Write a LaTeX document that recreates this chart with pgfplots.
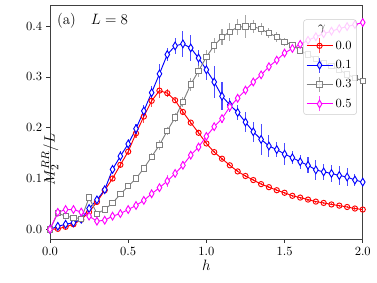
\documentclass[border=0pt]{standalone}
\usepackage{pgfplots}
\usepackage{pgfplotstable}
\pgfplotsset{compat=1.18}
\definecolor{mred}{rgb}{1,0,0}
\definecolor{mblue}{rgb}{0,0,1}
\definecolor{mgray}{rgb}{0.5,0.5,0.5}
\definecolor{mmag}{rgb}{1,0,1}
\definecolor{legframe}{rgb}{0.8,0.8,0.8}

\pgfplotstableread{
h y e
0.00 0.000 0.001
0.05 0.001 0.002
0.10 0.005 0.002
0.15 0.010 0.002
0.20 0.019 0.003
0.25 0.034 0.003
0.30 0.054 0.004
0.35 0.077 0.004
0.40 0.100 0.005
0.45 0.127 0.006
0.50 0.153 0.007
0.55 0.189 0.010
0.60 0.222 0.012
0.65 0.253 0.012
0.70 0.273 0.014
0.75 0.268 0.008
0.80 0.254 0.005
0.85 0.231 0.004
0.90 0.210 0.003
0.95 0.190 0.003
1.00 0.169 0.002
1.05 0.152 0.002
1.10 0.139 0.002
1.15 0.126 0.002
1.20 0.114 0.002
1.25 0.105 0.002
1.30 0.097 0.002
1.35 0.089 0.002
1.40 0.083 0.002
1.45 0.077 0.002
1.50 0.072 0.002
1.55 0.066 0.002
1.60 0.0625 0.002
1.65 0.0586 0.002
1.70 0.0546 0.002
1.75 0.052 0.002
1.80 0.049 0.002
1.85 0.0467 0.002
1.90 0.044 0.002
1.95 0.041 0.002
2.00 0.039 0.002
}\tabred

\pgfplotstableread{
h y e
0.00 0.000 0.002
0.05 0.006 0.003
0.10 0.010 0.003
0.15 0.013 0.003
0.20 0.020 0.003
0.25 0.041 0.004
0.30 0.058 0.004
0.35 0.078 0.005
0.40 0.118 0.008
0.45 0.144 0.010
0.50 0.168 0.010
0.55 0.198 0.010
0.60 0.233 0.012
0.65 0.269 0.013
0.70 0.306 0.020
0.75 0.344 0.013
0.80 0.361 0.015
0.85 0.365 0.026
0.90 0.357 0.025
0.95 0.337 0.016
1.00 0.314 0.020
1.05 0.290 0.031
1.10 0.262 0.028
1.15 0.245 0.014
1.20 0.230 0.014
1.25 0.211 0.019
1.30 0.192 0.020
1.35 0.177 0.030
1.40 0.164 0.021
1.45 0.157 0.015
1.50 0.148 0.021
1.55 0.141 0.013
1.60 0.133 0.014
1.65 0.126 0.016
1.70 0.117 0.020
1.75 0.113 0.015
1.80 0.110 0.016
1.85 0.106 0.018
1.90 0.103 0.018
1.95 0.097 0.012
2.00 0.093 0.006
}\tabblue

\pgfplotstableread{
h y e
0.00 0.000 0.001
0.05 0.032 0.003
0.10 0.026 0.003
0.15 0.023 0.003
0.20 0.021 0.004
0.25 0.0625 0.006
0.30 0.031 0.004
0.35 0.039 0.004
0.40 0.052 0.005
0.45 0.069 0.005
0.50 0.085 0.006
0.55 0.100 0.006
0.60 0.120 0.007
0.65 0.143 0.007
0.70 0.166 0.010
0.75 0.194 0.008
0.80 0.220 0.008
0.85 0.251 0.010
0.90 0.285 0.012
0.95 0.312 0.012
1.00 0.339 0.014
1.05 0.362 0.015
1.10 0.378 0.016
1.15 0.389 0.018
1.20 0.398 0.016
1.25 0.399 0.022
1.30 0.399 0.013
1.35 0.394 0.012
1.40 0.386 0.010
1.45 0.379 0.010
1.50 0.369 0.008
1.55 0.363 0.006
1.60 0.352 0.006
1.65 0.344 0.006
1.70 0.336 0.006
1.75 0.328 0.006
1.80 0.321 0.006
1.85 0.314 0.006
1.90 0.305 0.006
1.95 0.298 0.006
2.00 0.292 0.006
}\tabgray

\pgfplotstableread{
h y e
0.00 0.000 0.001
0.05 0.0335 0.003
0.10 0.039 0.003
0.15 0.039 0.003
0.20 0.034 0.003
0.25 0.026 0.003
0.30 0.016 0.003
0.35 0.018 0.003
0.40 0.026 0.003
0.45 0.031 0.003
0.50 0.039 0.003
0.55 0.047 0.003
0.60 0.057 0.004
0.65 0.070 0.004
0.70 0.082 0.006
0.75 0.095 0.012
0.80 0.110 0.006
0.85 0.126 0.008
0.90 0.146 0.005
0.95 0.162 0.005
1.00 0.183 0.005
1.05 0.202 0.006
1.10 0.218 0.008
1.15 0.241 0.008
1.20 0.258 0.008
1.25 0.274 0.005
1.30 0.290 0.005
1.35 0.304 0.005
1.40 0.320 0.005
1.45 0.333 0.005
1.50 0.347 0.005
1.55 0.356 0.004
1.60 0.364 0.004
1.65 0.372 0.004
1.70 0.379 0.004
1.75 0.385 0.004
1.80 0.390 0.004
1.85 0.395 0.004
1.90 0.399 0.004
1.95 0.403 0.004
2.00 0.407 0.004
}\tabmag

\begin{document}
\begin{tikzpicture}
\begin{axis}[
  at={(0,0)}, anchor=south west,
  scale only axis,
  width=250.2pt, height=186.6pt,
  xmin=0, xmax=2, ymin=-0.019, ymax=0.44,
  xtick={0,0.5,1,1.5,2},
  ytick={0,0.1,0.2,0.3,0.4},
  xticklabels={0.0,0.5,1.0,1.5,2.0},
  yticklabels={0.0,0.1,0.2,0.3,0.4},
  tick align=outside,
  major tick length=2.8pt,
  tick pos=left,
  tick style={black!80, line width=0.6pt},
  axis line style={black!75, line width=0.7pt},
  ticklabel style={font=\fontsize{10}{12}\selectfont},
  xlabel={$h$},
  ylabel={$M_2^{RR}/L$},
  xlabel style={font=\fontsize{12.5}{14}\selectfont, at={(axis description cs:0.5,0)}, anchor=center, yshift=-20.8pt},
  ylabel style={font=\fontsize{12.5}{14}\selectfont, at={(axis description cs:0,0.5)}, anchor=center, xshift=-29.6pt},
  every axis plot/.append style={line width=0.75pt},
  error bars/y dir=both,
  error bars/y explicit,
  error bars/error mark=none,
  error bars/error bar style={line width=0.9pt, opacity=0.7},
  legend style={
    at={(axis description cs:1,1)}, anchor=north east,
    xshift=-4.8pt, yshift=-11pt,
    draw=legframe, rounded corners=2pt,
    fill=white, fill opacity=0.8, text opacity=1, draw opacity=1,
    font=\fontsize{10}{12}\selectfont,
    inner xsep=2pt, inner ysep=2pt,
    row sep=2.6pt,
    legend cell align=left,
  },
  legend image code/.code={
    \draw[#1, mark=none, line width=0.9pt, opacity=0.7] (10.4pt,-6pt) -- (10.4pt,6pt);
    \draw[mark repeat=2, mark phase=2, #1] plot coordinates {(0pt,0pt) (10.4pt,0pt) (20.8pt,0pt)};
  },
]
\addlegendimage{empty legend}
\addlegendentry{\hspace{-19pt}$\gamma$}

\addplot[color=mred, mark=o, mark size=2.1pt, mark options={fill=white, solid}]
  table[x=h, y=y, y error=e] {\tabred};
\addlegendentry{0.0}

\addplot[color=mblue, mark=diamond*, mark size=3.1pt, mark options={fill=white, solid, xscale=0.8}]
  table[x=h, y=y, y error=e] {\tabblue};
\addlegendentry{0.1}

\addplot[color=mgray, mark=square*, mark size=2.1pt, mark options={fill=white, solid}]
  table[x=h, y=y, y error=e] {\tabgray};
\addlegendentry{0.3}

\addplot[color=mmag, mark=diamond*, mark size=3.1pt, mark options={fill=white, solid, xscale=0.8}]
  table[x=h, y=y, y error=e] {\tabmag};
\addlegendentry{0.5}

\node[anchor=west, font=\fontsize{12}{14}\selectfont, inner sep=0pt] at (axis description cs:0.022,0.935) {(a)\quad$L=8$};
\end{axis}
\useasboundingbox (-40pt,-34.4pt) rectangle (261.6pt,191.2pt);
\end{tikzpicture}
\end{document}
